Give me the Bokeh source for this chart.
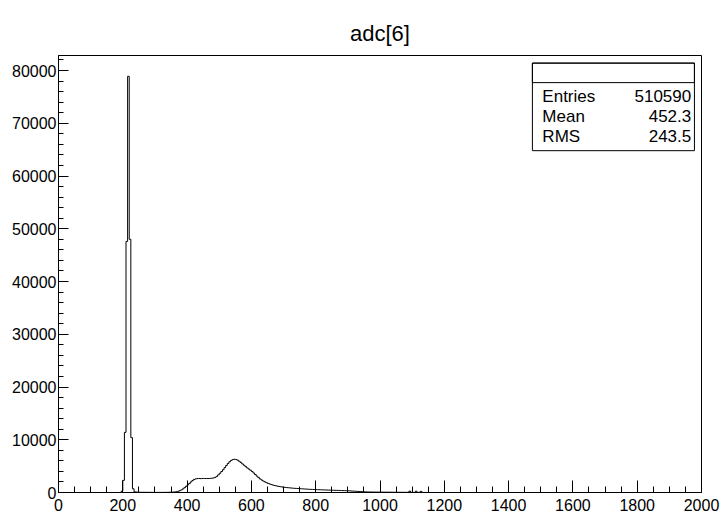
import numpy as np
from bokeh.plotting import figure
from bokeh.models import FixedTicker, BoxAnnotation, Label
from bokeh.embed import file_html
from bokeh.resources import INLINE

# Histogram adc[6]: 400 bins of width 5 over 0..2000
bin_width = 5
x_min, x_max = 0, 2000

# counts per bin, grouped by region; each group starts at the given low edge
pedestal_start = 195
pedestal_counts = [250, 2300, 11400, 47600, 78900, 48000, 10400, 700, 120]

valley_start = 240
valley_counts = [90, 60, 45, 40, 35, 30, 30, 28, 25, 25, 22, 20, 20, 20, 18, 20,
                 22, 25, 28, 32, 40, 50, 60, 80]

shoulder_start = 360
shoulder_counts = [110, 150, 230, 340, 480, 680, 920, 1180, 1440, 1720, 2020, 2290,
                   2480, 2590, 2640, 2660, 2630, 2650, 2670, 2640, 2660, 2650, 2680,
                   2700, 2760, 2870, 3050]

signal_start = 495
signal_counts = [3350, 3650, 3980, 4330, 4720, 5120, 5500, 5830, 6080, 6240, 6310,
                 6260, 6120, 5920, 5680, 5420, 5160, 4900, 4660, 4440, 4220, 3980,
                 3700, 3400, 3100, 2820, 2570, 2360, 2170, 2010, 1860, 1720, 1610,
                 1500, 1410, 1330, 1260, 1190, 1130, 1080, 1030, 990]

tail_start = 705
tail_counts = [950, 920, 890, 860, 830, 800, 780, 760, 740, 720, 700, 680, 660, 640,
               620, 600, 590, 575, 560, 550, 540, 525, 510, 500, 490, 480, 465, 455,
               445, 430, 420, 410, 400, 390, 380, 370, 360, 350, 340, 330, 300, 280,
               260, 240, 220, 200, 190, 180, 170]

far_tail_start = 950
far_tail_counts = [120, 110, 100, 95, 90, 85, 80, 78, 75, 72, 70, 68, 65, 62, 60, 58,
                   55, 52, 50, 48, 46, 44, 42, 40, 38, 36, 34, 32, 260, 28, 26, 24,
                   240, 20, 18, 220, 14, 12, 10, 8, 6]

stats_names = ["Entries", "Mean", "RMS"]
stats_values = ["510590", "452.3", "243.5"]

x_ticks = list(range(0, 2001, 200))
y_ticks = list(range(0, 80001, 10000))

# assemble the full bin array
n_bins = (x_max - x_min) // bin_width
counts = np.zeros(n_bins)
for start, vals in [(pedestal_start, pedestal_counts), (valley_start, valley_counts),
                    (shoulder_start, shoulder_counts), (signal_start, signal_counts),
                    (tail_start, tail_counts), (far_tail_start, far_tail_counts)]:
    i0 = (start - x_min) // bin_width
    counts[i0:i0 + len(vals)] = vals

edges = np.arange(x_min, x_max + bin_width, bin_width)
step_x = edges
step_y = np.append(counts, counts[-1])

y_top = counts.max() * 1.05

FONT = "Liberation Sans"

p = figure(width=720, height=514, output_backend="svg", toolbar_location=None,
           x_range=(x_min, x_max), y_range=(0, y_top),
           min_border_left=58, min_border_right=19, min_border_top=55,
           min_border_bottom=22)

p.title.text = "adc[6]"
p.title.align = "center"
p.title.text_font = FONT
p.title.text_font_size = "22px"
p.title.text_font_style = "normal"
p.title.text_color = "black"
p.title.standoff = 20

p.xgrid.visible = False
p.ygrid.visible = False
p.outline_line_color = "black"
p.outline_line_width = 1
p.background_fill_color = "white"
p.border_fill_color = "white"

p.xaxis.ticker = FixedTicker(ticks=x_ticks, minor_ticks=list(range(0, 2001, 50)))
p.yaxis.ticker = FixedTicker(ticks=y_ticks, minor_ticks=list(range(0, 82001, 2000)))

for ax in (p.xaxis, p.yaxis):
    ax.axis_line_color = "black"
    ax.axis_line_width = 1
    ax.major_tick_in = 12
    ax.major_tick_out = 0
    ax.minor_tick_in = 6
    ax.minor_tick_out = 0
    ax.major_tick_line_color = "black"
    ax.minor_tick_line_color = "black"
    ax.major_label_text_font = FONT
    ax.major_label_text_font_size = "16px"
    ax.major_label_text_color = "black"
    ax.major_label_standoff = 2

p.xaxis.major_label_standoff = 6
p.yaxis.major_tick_in = 10
p.yaxis.minor_tick_in = 5

p.step(x=step_x, y=step_y, mode="after", line_color="black", line_width=1)

# statistics box
box_left, box_right = 1474, 1978
box_bottom, box_mid, box_top = 64800, 77700, 81400
p.add_layout(BoxAnnotation(left=box_left, right=box_right, bottom=box_bottom, top=box_top,
                           fill_color="white", fill_alpha=1.0, line_color="black",
                           line_width=1, line_alpha=1.0))
p.add_layout(BoxAnnotation(left=box_left, right=box_right, bottom=box_mid, top=box_top,
                           fill_alpha=0.0, line_color="black", line_width=1,
                           line_alpha=1.0))

row_y = [75100, 71300, 67500]
for name, val, yy in zip(stats_names, stats_values, row_y):
    p.add_layout(Label(x=1505, y=yy, text=name, text_font=FONT, text_font_size="17px",
                       text_baseline="middle", text_align="left", text_color="black"))
    p.add_layout(Label(x=1968, y=yy, text=val, text_font=FONT, text_font_size="17px",
                       text_baseline="middle", text_align="right", text_color="black"))

open("out.html", "w").write(file_html(p, INLINE))
